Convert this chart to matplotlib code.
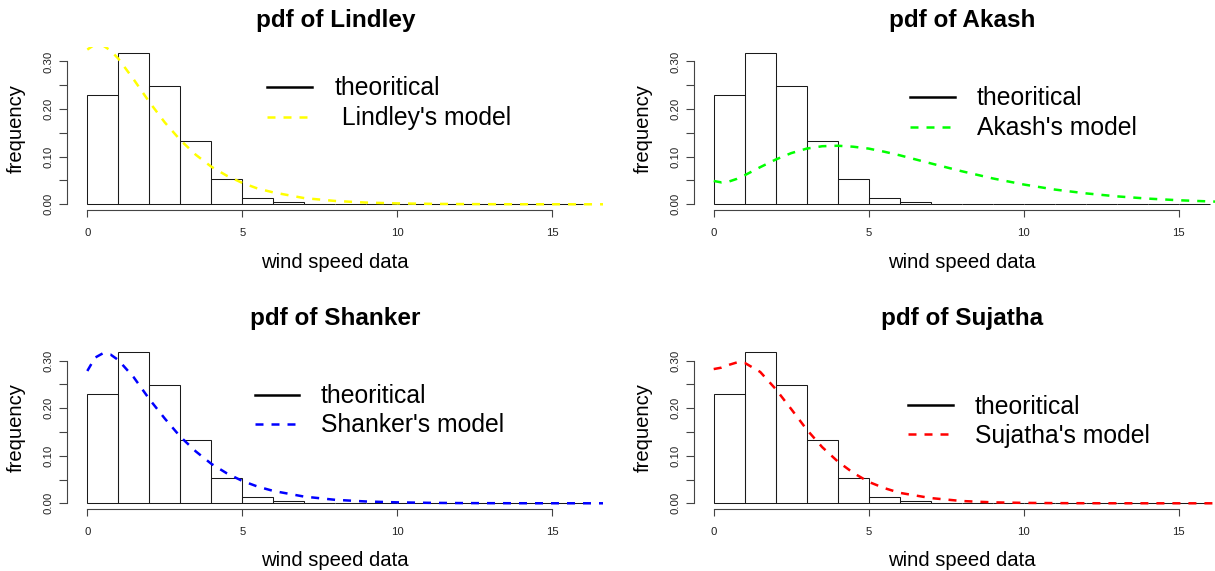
import matplotlib
matplotlib.use("Agg")
import matplotlib.pyplot as plt
from matplotlib.lines import Line2D

plt.rcParams['font.family'] = ['Liberation Sans', 'DejaVu Sans']

W, H = 1215, 571

# histogram of the wind speed data (density), unit bins 0..16
bin_left = list(range(16))
freq = [0.229, 0.318, 0.248, 0.132, 0.054, 0.0126, 0.004, 0.0015, 0.0015,
        0, 0, 0, 0, 0, 0, 0]

# fitted pdf curves
x_curve = [0, 0.25, 0.5, 0.75, 1, 1.5, 2, 2.5, 3, 3.5, 4, 4.5, 5, 5.5, 6,
           7, 8, 9, 10, 11, 12, 13, 14, 15, 16, 16.7]
lindley = [0.325, 0.336, 0.334, 0.323, 0.306, 0.262, 0.215, 0.172, 0.135,
           0.104, 0.079, 0.060, 0.045, 0.033, 0.025, 0.013, 0.007, 0.0036,
           0.0019, 0.001, 0.0005, 0.00025, 0.00012, 0.00006, 0.00003, 0.00002]
akash = [0.049, 0.046, 0.048, 0.0535, 0.061, 0.078, 0.094, 0.1075, 0.117,
         0.122, 0.123, 0.121, 0.117, 0.1105, 0.103, 0.086, 0.0695, 0.0544,
         0.0416, 0.031, 0.023, 0.0167, 0.012, 0.0085, 0.006, 0.0047]
shanker = [0.278, 0.306, 0.315, 0.3125, 0.301, 0.2645, 0.219, 0.178, 0.140,
           0.109, 0.083, 0.063, 0.047, 0.035, 0.026, 0.014, 0.0073, 0.0038,
           0.002, 0.001, 0.0005, 0.00025, 0.00012, 0.00006, 0.00003, 0.00002]
sujatha = [0.282, 0.285, 0.291, 0.296, 0.295, 0.276, 0.240, 0.198, 0.155,
           0.118, 0.088, 0.064, 0.045, 0.032, 0.022, 0.011, 0.0048, 0.002,
           0.0009, 0.0004, 0.00015, 0.00006, 0.00002, 0.00001, 0, 0]

titles = ["pdf of Lindley", "pdf of Akash", "pdf of Shanker", "pdf of Sujatha"]
model_labels = [" Lindley's model", "Akash's model", "Shanker's model", "Sujatha's model"]
model_values = [lindley, akash, shanker, sujatha]
model_colors = ["#ffff00", "#00ff00", "#0000ff", "#ff0000"]

# panel offsets (px) and legend placement (line x0, x1, y row1, y row2, text x)
offsets = [(0, 0), (626.4, 0), (0, 299), (626.4, 299)]
legend_pos = [(267, 312, 86.5, 117.0, 335),
              (910, 955, 96.7, 126.7, 977),
              (255, 299, 394.5, 423.5, 321),
              (908, 953, 405.0, 434.0, 975)]


def fx(x):
    return x / W


def fy(y):
    return 1 - y / H


fig = plt.figure(figsize=(W / 100, H / 100), dpi=100)

unit_x = 31.0     # px per wind speed unit
unit_y = 476.0    # px per density unit
xlo, xhi = -0.64, 16.64
ylo, yhi = -0.0127, 0.3307

for i in range(4):
    dx, dy = offsets[i]
    x0_px = 87.3 + dx          # data x = 0
    y0_px = 204.3 + dy         # data y = 0
    left = x0_px + xlo * unit_x
    right = x0_px + xhi * unit_x
    bottom = y0_px - ylo * unit_y
    top = y0_px - yhi * unit_y
    ax = fig.add_axes([fx(left), fy(bottom), (right - left) / W, (bottom - top) / H])

    ax.bar(bin_left, freq, width=1, align='edge', fill=False,
           edgecolor='#1a1a1a', linewidth=0.75)
    ax.plot(x_curve, model_values[i], color=model_colors[i], lw=1.8,
            linestyle=(0, (3.2, 3.2)))

    ax.set_xlim(xlo, xhi)
    ax.set_ylim(ylo, yhi)
    for s in ['top', 'right']:
        ax.spines[s].set_visible(False)
    for s in ['left', 'bottom']:
        ax.spines[s].set_color('#444444')
        ax.spines[s].set_linewidth(0.8)
    ax.spines['left'].set_bounds(0, 0.30)
    ax.spines['bottom'].set_bounds(0, 15)
    ax.set_xticks([0, 5, 10, 15])
    ax.set_xticklabels(['0', '5', '10', '15'])
    yt = [0, 0.05, 0.10, 0.15, 0.20, 0.25, 0.30]
    ax.set_yticks(yt)
    ax.set_yticklabels(['0.00', '', '0.10', '', '0.20', '', '0.30'],
                       rotation=90, va='center')
    ax.tick_params(axis='x', length=5.3, width=0.8, color='#444444',
                   labelsize=8.2, labelcolor='#222222', pad=7.5)
    ax.tick_params(axis='y', length=5.8, width=0.8, color='#444444',
                   labelsize=8.2, labelcolor='#222222', pad=4.0)
    ax.patch.set_alpha(0)

    cx = (left + right) / 2
    fig.text(fx(cx), fy(20 + dy), titles[i], ha='center', va='center',
             fontsize=17.5, fontweight='bold')
    fig.text(fx(cx), fy(262 + dy), "wind speed data", ha='center',
             va='center', fontsize=14.6)
    fig.text(fx(16.7 + dx), fy((top + bottom) / 2), "frequency", ha='center',
             va='center', rotation=90, fontsize=14.6)

    lx0, lx1, ly1, ly2, tx = legend_pos[i]
    fig.add_artist(Line2D([fx(lx0), fx(lx1)], [fy(ly1), fy(ly1)],
                          color='black', lw=1.8))
    fig.add_artist(Line2D([fx(lx0), fx(lx1)], [fy(ly2), fy(ly2)],
                          color=model_colors[i], lw=1.8,
                          linestyle=(0, (3.2, 3.2))))
    fig.text(fx(tx), fy(ly1 + 1.5), "theoritical", ha='left', va='center',
             fontsize=17.8)
    fig.text(fx(tx), fy(ly2 + 1.5), model_labels[i], ha='left', va='center',
             fontsize=17.8)

fig.savefig("out.png", dpi=100, facecolor='white')
